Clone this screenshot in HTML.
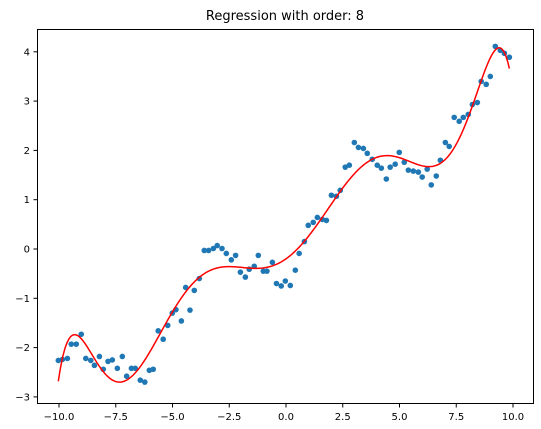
<!DOCTYPE html>
<html><head><meta charset="utf-8"><style>
body{margin:0;background:#fff;}
svg{display:block;font-family:"DejaVu Sans","Liberation Sans",sans-serif;}
</style></head><body>
<svg id="chart" width="541" height="429" viewBox="0 0 541 429" xmlns="http://www.w3.org/2000/svg">
<text x="285" y="20" text-anchor="middle" font-size="13">Regression with order: 8</text>
<g id="marks"></g>
<rect x="37.5" y="29.5" width="496" height="374" fill="none" stroke="#000" stroke-width="1"/>
<g id="axes"></g>
</svg>
<script>
const xs=[-10.03,-9.85,-9.63,-9.46,-9.24,-9.02,-8.82,-8.60,-8.44,-8.22,-8.05,-7.84,-7.65,-7.43,-7.21,-7.02,-6.81,-6.64,-6.42,-6.22,-6.02,-5.85,
-5.63,-5.41,-5.21,-5.01,-4.85,-4.61,-4.42,-4.23,-4.04,-3.82,-3.60,-3.41,-3.20,-3.03,-2.82,-2.63,-2.41,-2.22,-2.01,-1.79,-1.62,-1.40,-1.22,-1.00,-0.84,-0.60,-0.42,-0.21,-0.03,0.19,0.41,0.58,
0.81,0.98,1.20,1.38,1.60,1.78,2.00,2.22,2.39,2.61,2.79,3.01,3.19,3.41,3.58,3.80,4.02,4.20,4.42,4.59,4.81,4.99,5.21,5.39,5.61,5.83,6.00,6.22,6.40,6.62,6.80,7.02,7.19,7.41,7.63,7.81,8.03,8.21,8.43,8.60,8.82,9.00,9.22,9.44,9.62,9.84];
const ys=[-2.26,-2.24,-2.22,-1.93,-1.93,-1.73,-2.22,-2.26,-2.36,-2.18,-2.44,-2.28,-2.25,-2.42,-2.18,-2.58,-2.42,-2.42,-2.66,-2.70,-2.46,-2.44,
-1.66,-1.83,-1.55,-1.30,-1.23,-1.46,-0.78,-1.24,-0.84,-0.60,-0.03,-0.03,0.01,0.07,0.01,-0.09,-0.22,-0.13,-0.47,-0.57,-0.41,-0.35,-0.13,-0.45,-0.45,-0.27,-0.70,-0.75,-0.65,-0.74,-0.43,-0.09,
0.15,0.48,0.54,0.64,0.60,0.58,1.09,1.07,1.19,1.66,1.70,2.16,2.06,2.04,1.94,1.82,1.70,1.64,1.42,1.66,1.72,1.96,1.76,1.60,1.58,1.56,1.46,1.62,1.30,1.48,1.80,2.16,2.08,2.67,2.59,2.67,2.73,2.93,2.97,3.40,3.34,3.50,4.11,4.03,3.97,3.89];
const xTicks=[-10,-7.5,-5,-2.5,0,2.5,5,7.5,10];
const xTickLabels=["−10.0","−7.5","−5.0","−2.5","0.0","2.5","5.0","7.5","10.0"];
const yTicks=[-3,-2,-1,0,1,2,3,4];
const yTickLabels=["−3","−2","−1","0","1","2","3","4"];
const order=8;

const NS="http://www.w3.org/2000/svg";
const sx=v=>286+v*22.7;
const sy=v=>249-v*49.3;
const marks=document.getElementById('marks'),axes=document.getElementById('axes');
function mk(t,a,p){const e=document.createElementNS(NS,t);for(const k in a)e.setAttribute(k,a[k]);p.appendChild(e);return e;}

// polynomial least squares fit (x scaled by 1/10)
const n=order+1;const A=[];for(let i=0;i<n;i++){A.push(new Array(n+1).fill(0));}
for(let k=0;k<xs.length;k++){const t=xs[k]/10;const p=[];let v=1;for(let i=0;i<n;i++){p.push(v);v*=t;}
for(let i=0;i<n;i++){for(let j=0;j<n;j++)A[i][j]+=p[i]*p[j];A[i][n]+=p[i]*ys[k];}}
for(let c=0;c<n;c++){let m=c;for(let r=c+1;r<n;r++)if(Math.abs(A[r][c])>Math.abs(A[m][c]))m=r;[A[c],A[m]]=[A[m],A[c]];
for(let r=0;r<n;r++){if(r===c)continue;const f=A[r][c]/A[c][c];for(let j=c;j<=n;j++)A[r][j]-=f*A[c][j];}}
const coef=A.map((r,i)=>r[n]/r[i]);
const poly=x=>{const t=x/10;let s=0,v=1;for(let i=0;i<n;i++){s+=coef[i]*v;v*=t;}return s;};

for(let i=0;i<xs.length;i++){
const c=mk('circle',{cx:sx(xs[i]),cy:sy(ys[i]),r:2.8,fill:'#1f77b4'},marks);


}
const xmin=Math.min(...xs),xmax=Math.max(...xs);let d='';
for(let i=0;i<=300;i++){const x=xmin+(xmax-xmin)*i/300;d+=(i?'L':'M')+sx(x).toFixed(2)+','+sy(poly(x)).toFixed(2);}
const line=mk('path',{d:d,fill:'none',stroke:'#ff0000','stroke-width':1.5},marks);



xTicks.forEach((v,i)=>{
const l=mk('line',{x1:sx(v),x2:sx(v),y1:403.5,y2:407.5,stroke:'#000'},axes);


const t=mk('text',{x:sx(v),y:420,'text-anchor':'middle','font-size':10},axes);t.textContent=xTickLabels[i];


});
yTicks.forEach((v,i)=>{
const l=mk('line',{x1:33.5,x2:37.5,y1:sy(v),y2:sy(v),stroke:'#000'},axes);


const t=mk('text',{x:30,y:sy(v)+3.5,'text-anchor':'end','font-size':10},axes);t.textContent=yTickLabels[i];


});
</script>
</body></html>
